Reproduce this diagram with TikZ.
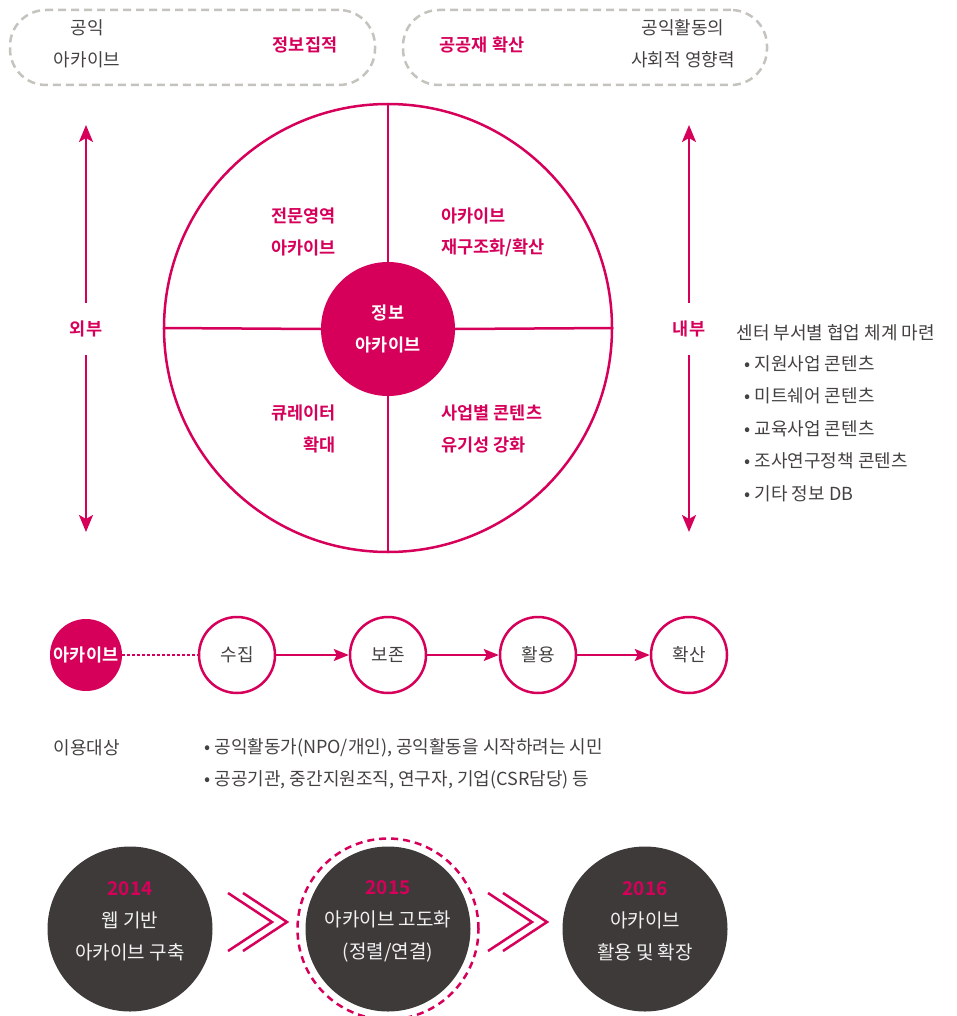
\documentclass[tikz,border=0pt]{standalone}
\usepackage{fontspec}
\setmainfont{Noto Sans CJK KR}[BoldFont={Noto Sans CJK KR Bold}]
\usepackage{tikz}
\usetikzlibrary{arrows.meta}
\definecolor{ArchRed}{HTML}{D6005B}
\definecolor{DarkGrey}{HTML}{3E3A39}
\definecolor{DashGrey}{HTML}{C5C3BD}
\definecolor{TextGrey}{HTML}{444240}
\definecolor{SoftWhite}{HTML}{F2F2F2}

\begin{document}
\begin{tikzpicture}[x=1pt, y=-1pt,
	pinkline/.style={color=ArchRed, line width=2.5pt},
	pinkarrow/.style={pinkline, -{Stealth[length=17pt,width=14pt,inset=4pt]}},
	flowarrow/.style={color=ArchRed, line width=2pt, -{Stealth[length=15pt,width=12pt,inset=3pt]}},
	redlabel/.style={text=ArchRed, align=left, font=\fontsize{17.5}{31.5}\selectfont\bfseries},
	greylabel/.style={text=TextGrey, align=center, font=\fontsize{18}{32}\selectfont},
	dashbox/.style={draw=DashGrey, line width=2.5pt, dash pattern=on 8pt off 5pt, rounded corners=36pt, minimum height=75pt},
	stagecircle/.style={circle, draw=ArchRed, line width=2.5pt, minimum size=76pt, inner sep=0pt, text=TextGrey, font=\fontsize{18}{20}\selectfont},
	yearcircle/.style={circle, fill=DarkGrey, minimum size=165pt},
	yeartext/.style={text=SoftWhite, align=center, font=\fontsize{19}{32}\selectfont},
	chevron/.style={color=ArchRed, line width=2.5pt}]
	\useasboundingbox (0,0) rectangle (956,1016);

	\node[dashbox, minimum width=365pt] (publicbox) at (192.5,47.5) {};
	\node[dashbox, minimum width=364pt] (socialbox) at (585,47.5) {};
	\node[greylabel] (publicarch) at (87,44) {공익\\아카이브};
	\node[redlabel] (gather) at (305,45) {정보집적};
	\node[redlabel] (commons) at (482,45) {공공재 확산};
	\node[greylabel] (impact) at (683,44) {공익활동의\\사회적 영향력};

	\node[circle, draw=ArchRed, line width=2.5pt, minimum size=448pt] (ring) at (388,328) {};
	\node[circle, fill=ArchRed, minimum size=134pt, inner sep=0pt, text=white, align=center, font=\fontsize{17.5}{32}\selectfont\bfseries] (core) at (388,329) {정보\\아카이브};
	\draw[pinkline] (ring.north) -- (core.north);
	\draw[pinkline] (ring.south) -- (core.south);
	\draw[pinkline] (ring.west) -- (core.west);
	\draw[pinkline] (ring.east) -- (core.east);
	\node[redlabel, anchor=west] (expert) at (268,232) {전문영역\\아카이브};
	\node[redlabel, anchor=west] (restruct) at (438,232) {아카이브\\재구조화/확산};
	\node[redlabel, anchor=east, align=right] (curator) at (339,429) {큐레이터\\확대};
	\node[redlabel, anchor=west] (content) at (438,429) {사업별 콘텐츠\\유기성 강화};

	\node[redlabel, minimum height=52pt] (outside) at (86,329) {외부};
	\coordinate (outtop) at (86,125);
	\coordinate (outbottom) at (86,532);
	\draw[pinkarrow] (outside) -- (outtop);
	\draw[pinkarrow] (outside) -- (outbottom);
	\node[redlabel, minimum height=52pt] (inside) at (689,329) {내부};
	\coordinate (intop) at (689,125);
	\coordinate (inbottom) at (689,532);
	\draw[pinkarrow] (inside) -- (intop);
	\draw[pinkarrow] (inside) -- (inbottom);

	\node[greylabel, anchor=west] (teamplan) at (733,333) {센터 부서별 협업 체계 마련};
	\foreach \entry [count=\i] in {지원사업 콘텐츠, 미트쉐어 콘텐츠, 교육사업 콘텐츠, 조사연구정책 콘텐츠, 기타 정보 DB}
		\node[greylabel, anchor=west] (item\i) at (741,{331+32.5*\i}) {• \entry};

	\node[circle, fill=ArchRed, minimum size=72pt, inner sep=0pt, text=white, font=\fontsize{17.5}{20}\selectfont\bfseries] (archive) at (86,655) {아카이브};
	\node[stagecircle] (collect) at (237,655) {수집};
	\node[stagecircle] (preserve) at (388,655) {보존};
	\node[stagecircle] (utilize) at (538,655) {활용};
	\node[stagecircle] (spread) at (689,655) {확산};
	\draw[color=ArchRed, line width=1.5pt, dash pattern=on 3pt off 2pt] (archive) -- (collect);
	\draw[flowarrow] (collect) -- (preserve);
	\draw[flowarrow] (preserve) -- (utilize);
	\draw[flowarrow] (utilize) -- (spread);

	\node[greylabel, anchor=west] (users) at (50,748) {이용대상};
	\node[greylabel, anchor=west] (citizens) at (201,748) {• 공익활동가(NPO/개인), 공익활동을 시작하려는 시민};
	\node[greylabel, anchor=west] (agencies) at (201,780) {• 공공기관, 중간지원조직, 연구자, 기업(CSR담당) 등};

	\node[yearcircle] (y2014) at (130,929) {};
	\node[circle, draw=ArchRed, line width=2.5pt, dash pattern=on 7pt off 5pt, minimum size=181pt] (focus) at (388,929) {};
	\node[yearcircle] (y2015) at (388,929) {};
	\node[yearcircle] (y2016) at (645,929) {};
	\node[yeartext] (t2014) at (130,921) {{\color{ArchRed}\bfseries 2014}\\웹 기반\\아카이브 구축};
	\node[yeartext] (t2015) at (388,921) {{\color{ArchRed}\bfseries 2015}\\아카이브 고도화\\(정렬/연결)};
	\node[yeartext] (t2016) at (645,921) {{\color{ArchRed}\bfseries 2016}\\아카이브\\활용 및 확장};
	\foreach \mx in {258,518} {
		\draw[chevron] (\mx-30,893) -- (\mx+14,922) -- (\mx-30,951);
		\draw[chevron] (\mx-15,893) -- (\mx+29,922) -- (\mx-15,951);
	}
\end{tikzpicture}
\end{document}
